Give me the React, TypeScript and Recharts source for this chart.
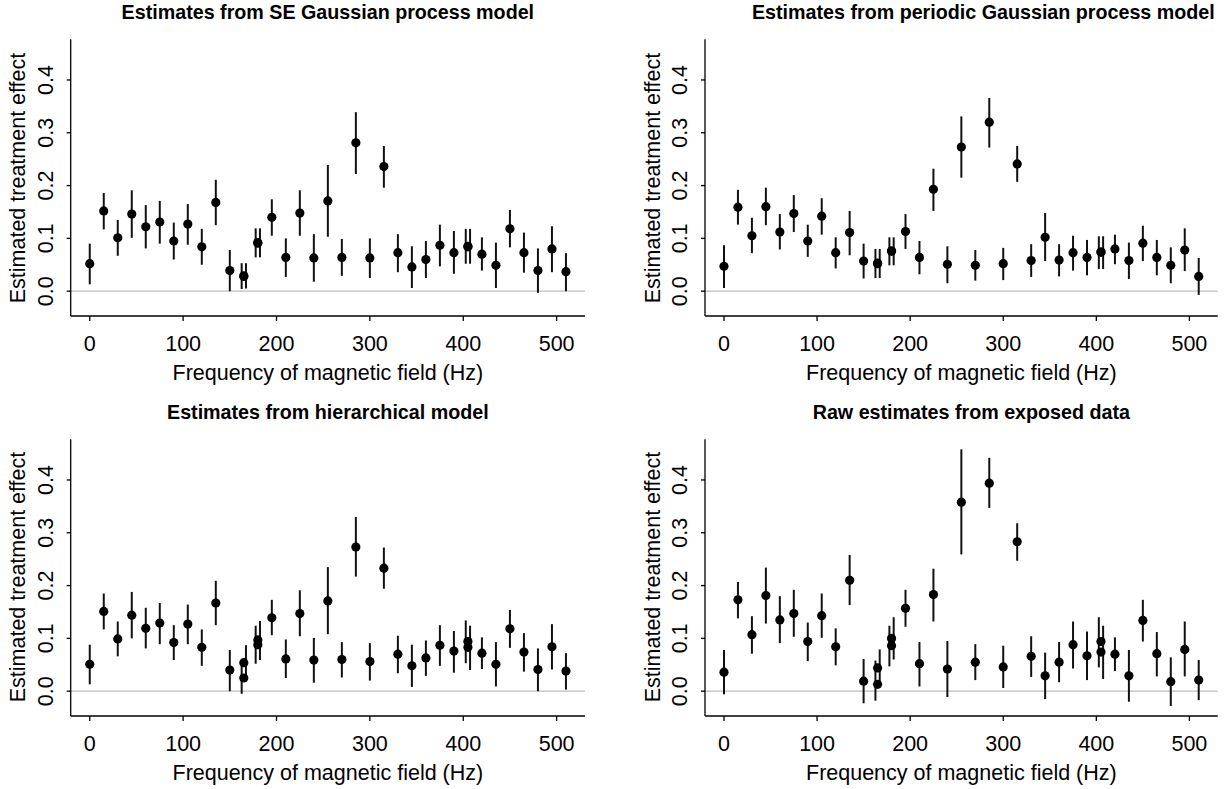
import React from 'react';
import { ScatterChart, Scatter, XAxis, YAxis, ErrorBar, ReferenceLine } from 'recharts';

const FONT = '"Liberation Sans", Arial, Helvetica, sans-serif';

// frequencies (Hz); 165, 180 and 405 Hz were run twice
const freqs = [
  0, 15, 30, 45, 60, 75, 90, 105, 120, 135, 150, 165, 165, 180, 180, 195, 210, 225, 240,
  255, 270, 285, 300, 315, 330, 345, 360, 375, 390, 405, 405, 420, 435, 450, 465, 480, 495, 510,
];
// small horizontal offset of the interval line for the duplicated runs
const barShift = [
  0, 0, 0, 0, 0, 0, 0, 0, 0, 0, 0, -2.3, 2.3, -2.3, 2.3, 0, 0, 0, 0,
  0, 0, 0, 0, 0, 0, 0, 0, 0, 0, -2.3, 2.3, 0, 0, 0, 0, 0, 0, 0,
];

const xTicks = [0, 100, 200, 300, 400, 500];
const yTicks = [0, 0.1, 0.2, 0.3, 0.4];

// SE Gaussian process model
const seEst = [
  0.052, 0.152, 0.101, 0.146, 0.122, 0.131, 0.095, 0.127, 0.084, 0.168, 0.039, 0.028, 0.029, 0.091, 0.092, 0.140, 0.064, 0.148, 0.063,
  0.171, 0.064, 0.281, 0.063, 0.236, 0.073, 0.046, 0.060, 0.087, 0.073, 0.085, 0.084, 0.070, 0.049, 0.118, 0.073, 0.039, 0.080, 0.037,
];
const seLo = [
  0.013, 0.117, 0.067, 0.101, 0.081, 0.090, 0.060, 0.088, 0.050, 0.125, 0.000, 0.004, 0.005, 0.064, 0.064, 0.105, 0.027, 0.105, 0.018,
  0.103, 0.029, 0.222, 0.025, 0.196, 0.036, 0.006, 0.025, 0.047, 0.033, 0.052, 0.052, 0.039, 0.006, 0.083, 0.035, -0.003, 0.036, 0.000,
];
const seHi = [
  0.090, 0.186, 0.135, 0.191, 0.163, 0.171, 0.130, 0.165, 0.118, 0.211, 0.078, 0.053, 0.053, 0.119, 0.119, 0.174, 0.100, 0.191, 0.108,
  0.239, 0.099, 0.339, 0.100, 0.275, 0.108, 0.085, 0.095, 0.126, 0.114, 0.118, 0.118, 0.102, 0.092, 0.154, 0.111, 0.081, 0.123, 0.072,
];

// periodic Gaussian process model
const perEst = [
  0.047, 0.159, 0.105, 0.160, 0.112, 0.147, 0.095, 0.142, 0.073, 0.111, 0.057, 0.052, 0.053, 0.076, 0.076, 0.113, 0.064, 0.193, 0.051,
  0.273, 0.049, 0.320, 0.052, 0.241, 0.058, 0.102, 0.059, 0.073, 0.064, 0.074, 0.074, 0.080, 0.058, 0.091, 0.064, 0.049, 0.078, 0.028,
];
const perLo = [
  0.006, 0.126, 0.072, 0.125, 0.079, 0.112, 0.065, 0.107, 0.043, 0.068, 0.024, 0.025, 0.025, 0.049, 0.049, 0.080, 0.032, 0.152, 0.015,
  0.215, 0.020, 0.272, 0.021, 0.207, 0.027, 0.057, 0.028, 0.039, 0.030, 0.042, 0.042, 0.051, 0.023, 0.057, 0.030, 0.015, 0.038, -0.007,
];
const perHi = [
  0.087, 0.192, 0.139, 0.196, 0.146, 0.182, 0.126, 0.176, 0.102, 0.152, 0.090, 0.080, 0.080, 0.102, 0.102, 0.146, 0.095, 0.232, 0.085,
  0.331, 0.078, 0.366, 0.082, 0.275, 0.089, 0.148, 0.089, 0.105, 0.097, 0.104, 0.104, 0.107, 0.092, 0.124, 0.097, 0.083, 0.119, 0.063,
];

// hierarchical model
const hierEst = [
  0.051, 0.151, 0.099, 0.144, 0.119, 0.129, 0.092, 0.127, 0.083, 0.167, 0.040, 0.025, 0.054, 0.088, 0.097, 0.139, 0.061, 0.147, 0.059,
  0.171, 0.060, 0.273, 0.056, 0.233, 0.070, 0.048, 0.063, 0.087, 0.076, 0.094, 0.083, 0.072, 0.051, 0.118, 0.074, 0.041, 0.084, 0.038,
];
const hierLo = [
  0.013, 0.117, 0.066, 0.100, 0.081, 0.089, 0.059, 0.089, 0.048, 0.125, 0.000, -0.005, 0.030, 0.052, 0.059, 0.106, 0.025, 0.104, 0.016,
  0.108, 0.026, 0.217, 0.020, 0.194, 0.034, 0.008, 0.029, 0.048, 0.035, 0.053, 0.040, 0.042, 0.009, 0.082, 0.037, 0.000, 0.041, 0.003,
];
const hierHi = [
  0.088, 0.185, 0.132, 0.188, 0.158, 0.167, 0.125, 0.164, 0.117, 0.209, 0.078, 0.058, 0.087, 0.124, 0.133, 0.173, 0.098, 0.191, 0.101,
  0.235, 0.093, 0.330, 0.091, 0.272, 0.105, 0.088, 0.096, 0.125, 0.114, 0.134, 0.124, 0.102, 0.093, 0.154, 0.110, 0.081, 0.127, 0.072,
];

// raw estimates from exposed data
const rawEst = [
  0.036, 0.173, 0.107, 0.181, 0.135, 0.147, 0.094, 0.143, 0.084, 0.210, 0.019, 0.013, 0.044, 0.086, 0.100, 0.157, 0.052, 0.183, 0.042,
  0.358, 0.055, 0.394, 0.046, 0.283, 0.066, 0.029, 0.055, 0.088, 0.067, 0.094, 0.074, 0.070, 0.029, 0.134, 0.071, 0.018, 0.079, 0.021,
];
const rawLo = [
  -0.006, 0.138, 0.071, 0.128, 0.091, 0.103, 0.057, 0.101, 0.049, 0.163, -0.023, -0.018, 0.017, 0.047, 0.060, 0.122, 0.009, 0.132, -0.011,
  0.259, 0.021, 0.347, 0.006, 0.247, 0.027, -0.015, 0.017, 0.043, 0.021, 0.045, 0.023, 0.038, -0.020, 0.094, 0.028, -0.028, 0.028, -0.017,
];
const rawHi = [
  0.078, 0.207, 0.142, 0.234, 0.180, 0.192, 0.130, 0.185, 0.119, 0.258, 0.061, 0.058, 0.079, 0.124, 0.140, 0.192, 0.093, 0.232, 0.095,
  0.458, 0.089, 0.442, 0.086, 0.318, 0.104, 0.073, 0.093, 0.132, 0.113, 0.140, 0.124, 0.102, 0.078, 0.173, 0.112, 0.064, 0.132, 0.059,
];

const W = 612;
const H = 395;
const M_TOP = 39.3;
const M_BOTTOM = 19;
const X_H = 60;
const Y_W = 60;
const LABEL_SIZE = 21.5;

const YTick = (props: any) => {
  const { x, y, payload } = props;
  return (
    <text
      x={x}
      y={y}
      transform={`rotate(-90 ${x} ${y})`}
      textAnchor="middle"
      fontSize={LABEL_SIZE}
      fontFamily={FONT}
      fill="#000"
    >
      {payload.value.toFixed(1)}
    </text>
  );
};

const Dot = (props: any) => <circle cx={props.cx} cy={props.cy} r={4.6} fill="#000" />;
const NoShape = () => <g />;

type PanelProps = {
  title: string;
  est: number[];
  lo: number[];
  hi: number[];
  left: number;
  top: number;
  ml: number;
  mr: number;
  titleDx?: number;
};

function Panel({ title, est, lo, hi, left, top, ml, mr, titleDx = 0 }: PanelProps) {
  const points = freqs.map((f, i) => ({ x: f, y: est[i] }));
  const bars = freqs.map((f, i) => ({
    x: f + barShift[i],
    y: est[i],
    err: [est[i] - lo[i], hi[i] - est[i]],
  }));

  const plotLeft = ml + Y_W;
  const plotW = W - plotLeft - mr;
  const plotBottom = H - M_BOTTOM - X_H;
  const cx = plotLeft + plotW / 2;
  const cy = (M_TOP + plotBottom) / 2;

  const textStyle: React.CSSProperties = {
    position: 'absolute',
    fontFamily: FONT,
    whiteSpace: 'nowrap',
    color: '#000',
    lineHeight: '22px',
  };

  return (
    <div style={{ position: 'absolute', left, top, width: W, height: H }}>
      <ScatterChart width={W} height={H} margin={{ top: M_TOP, right: mr, bottom: M_BOTTOM, left: ml }}>
        <XAxis
          type="number"
          dataKey="x"
          domain={[-20.4, 530.4]}
          ticks={xTicks}
          allowDataOverflow
          height={X_H}
          tickSize={5}
          tickMargin={15}
          stroke="#000"
          axisLine={{ stroke: '#000', strokeWidth: 1.3 }}
          tickLine={{ stroke: '#000', strokeWidth: 1.3 }}
          tick={{ fontSize: LABEL_SIZE, fontFamily: FONT, fill: '#000' }}
        />
        <YAxis
          type="number"
          dataKey="y"
          domain={[-0.047, 0.477]}
          ticks={yTicks}
          allowDataOverflow
          width={Y_W}
          tickSize={4}
          tickMargin={14}
          axisLine={{ stroke: '#000', strokeWidth: 1.3 }}
          tickLine={{ stroke: '#000', strokeWidth: 1.3 }}
          tick={<YTick />}
        />
        <ReferenceLine y={0} stroke="#bdbdbd" strokeWidth={1.3} />
        <Scatter data={bars} shape={NoShape} isAnimationActive={false}>
          <ErrorBar dataKey="err" direction="y" width={0} stroke="#111" strokeWidth={2} />
        </Scatter>
        <Scatter data={points} shape={Dot} isAnimationActive={false} />
      </ScatterChart>

      <div
        style={{
          ...textStyle,
          left: cx + titleDx,
          top: 12,
          transform: 'translate(-50%, -50%)',
          fontSize: 19.7,
          fontWeight: 'bold',
        }}
      >
        {title}
      </div>
      <div
        style={{
          ...textStyle,
          left: cx,
          top: plotBottom + 57,
          transform: 'translate(-50%, -50%)',
          fontSize: LABEL_SIZE,
        }}
      >
        Frequency of magnetic field (Hz)
      </div>
      <div
        style={{
          ...textStyle,
          left: plotLeft - 52.5,
          top: cy,
          transform: 'translate(-50%, -50%) rotate(-90deg)',
          fontSize: LABEL_SIZE,
        }}
      >
        Estimated treatment effect
      </div>
    </div>
  );
}

export default function App() {
  return (
    <div style={{ position: 'absolute', left: 0, top: 0, width: 1225, height: 789, background: '#fff', overflow: 'hidden' }}>
      <Panel title="Estimates from SE Gaussian process model" est={seEst} lo={seLo} hi={seHi} left={0} top={0} ml={10.7} mr={27} />
      <Panel title="Estimates from periodic Gaussian process model" est={perEst} lo={perLo} hi={perHi} left={612} top={0} ml={33} mr={6.3} titleDx={22} />
      <Panel title="Estimates from hierarchical model" est={hierEst} lo={hierLo} hi={hierHi} left={0} top={399.5} ml={10.7} mr={27} />
      <Panel title="Raw estimates from exposed data" est={rawEst} lo={rawLo} hi={rawHi} left={612} top={399.5} ml={33} mr={6.3} titleDx={10} />
    </div>
  );
}
